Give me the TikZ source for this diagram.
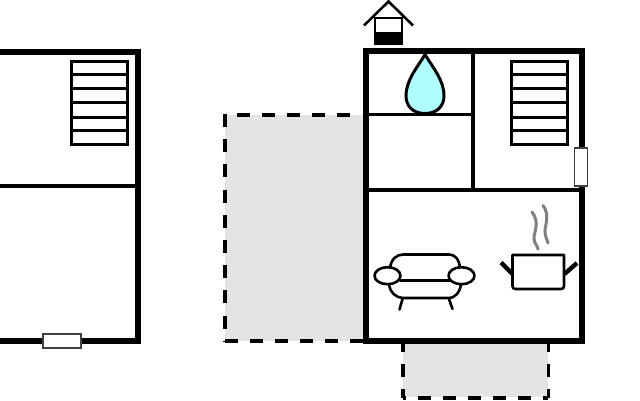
\documentclass[tikz,border=0pt]{standalone}
\definecolor{dropfill}{HTML}{B0FFFF}
\definecolor{terracefill}{HTML}{E4E4E4}
\tikzset{
  wall/.style={draw=black,line width=6pt,line cap=butt,line join=miter},
  inner/.style={draw=black,line width=3.2pt},
  stairline/.style={draw=black,line width=3pt},
  terrace/.style={fill=terracefill,draw=none},
  dashline/.style={draw=black,line width=3.6pt,dash pattern=on 13pt off 12pt},
  windowbox/.style={fill=white,draw=black!75,line width=1.6pt},
  thing/.style={draw=black,line width=2.6pt,line join=round,line cap=round},
}
\newcommand{\stairset}[1]{%
  \begin{scope}[xshift=#1pt]
    \draw[stairline] (0,61) rectangle (56,144);
    \foreach \yy in {74,88,102,117,130}{\draw[stairline] (0,\yy) -- (56,\yy);}
  \end{scope}}
\begin{document}
\begin{tikzpicture}[x=1pt,y=-1pt]
\useasboundingbox (0,0) rectangle (640,400);
% terraces
\fill[terrace] (225,115) rectangle (364,341);
\fill[terrace] (403,344) rectangle (548,397);
\draw[dashline] (350,115) -- (225,115);
\draw[dashline,dash pattern=on 13pt off 12.2pt] (225,114) -- (225,341);
\draw[dashline] (225,341) -- (364,341);
\draw[dashline,dash phase=5pt] (403,344) -- (403,398);
\draw[dashline,dash phase=5pt] (548.3,344) -- (548.3,398);
\draw[dashline,dash phase=10pt] (403,398.2) -- (548.3,398.2);
% left house
\draw[inner] (0,186) -- (136,186);
\stairset{71}
\draw[wall] (0,51.5) -- (138,51.5) -- (138,341) -- (0,341);
\draw[windowbox] (43,334) rectangle (81,348);
% right house
\draw[inner] (366,114.5) -- (473,114.5);
\draw[inner] (473,51) -- (473,190);
\draw[inner] (366,190) -- (581,190);
\stairset{511}
\draw[wall] (365.5,51) rectangle (581.5,341);
\draw[windowbox] (574.5,148) rectangle (587.5,186);
% chimney
\fill[black] (374,32) rectangle (403,44.5);
\draw[black,line width=2.6pt,line join=miter] (375,18) rectangle (402,44);
\draw[black,line width=2.6pt] (364,25.5) -- (388.5,1.5) -- (413,25.5);
% drop
\draw[black,line width=3pt,fill=dropfill] (425,54.5)
  .. controls (417,68) and (406,80) .. (406,96)
  .. controls (406,106) and (413,113.5) .. (425,113.5)
  .. controls (437,113.5) and (444,106) .. (444,96)
  .. controls (444,80) and (433,68) .. (425,54.5) -- cycle;
% sofa
\draw[thing] (390,268) .. controls (391,259) and (397,254.5) .. (403,254.5)
  -- (449,254.5) .. controls (455,254.5) and (459,259) .. (460,268);
\draw[thing] (400,280.5) -- (450,280.5);
\draw[thing] (389,285) .. controls (390,292) and (396,298) .. (403,298)
  -- (448,298) .. controls (456,298) and (460,292) .. (461,284);
\draw[thing] (402.5,299) -- (399.5,309.5);
\draw[thing] (449,299) -- (452.5,309);
\draw[thing,fill=white] (387.5,275.7) ellipse (13 and 8.5);
\draw[thing,fill=white] (461.5,275.7) ellipse (13 and 8.5);
% pot
\draw[thing] (512.5,255) -- (564,255) -- (564,286) .. controls (564,288) and (563,289) .. (561,289)
  -- (515.5,289) .. controls (513.5,289) and (512.5,288) .. (512.5,286) -- cycle;
\draw[black,line width=4.4pt] (501,262.5) -- (512.5,274);
\draw[black,line width=4.4pt] (577,263) -- (564.5,274);
% steam
\draw[black!50,line width=3pt,line cap=round] (532,212) .. controls (540,222) and (534,232) .. (534,238) .. controls (534,244) and (537,244) .. (538,249);
\draw[black!50,line width=3pt,line cap=round] (543,205.5) .. controls (550,214) and (545,226) .. (545,231) .. controls (545,237) and (547,239) .. (548,243);
\end{tikzpicture}
\end{document}
